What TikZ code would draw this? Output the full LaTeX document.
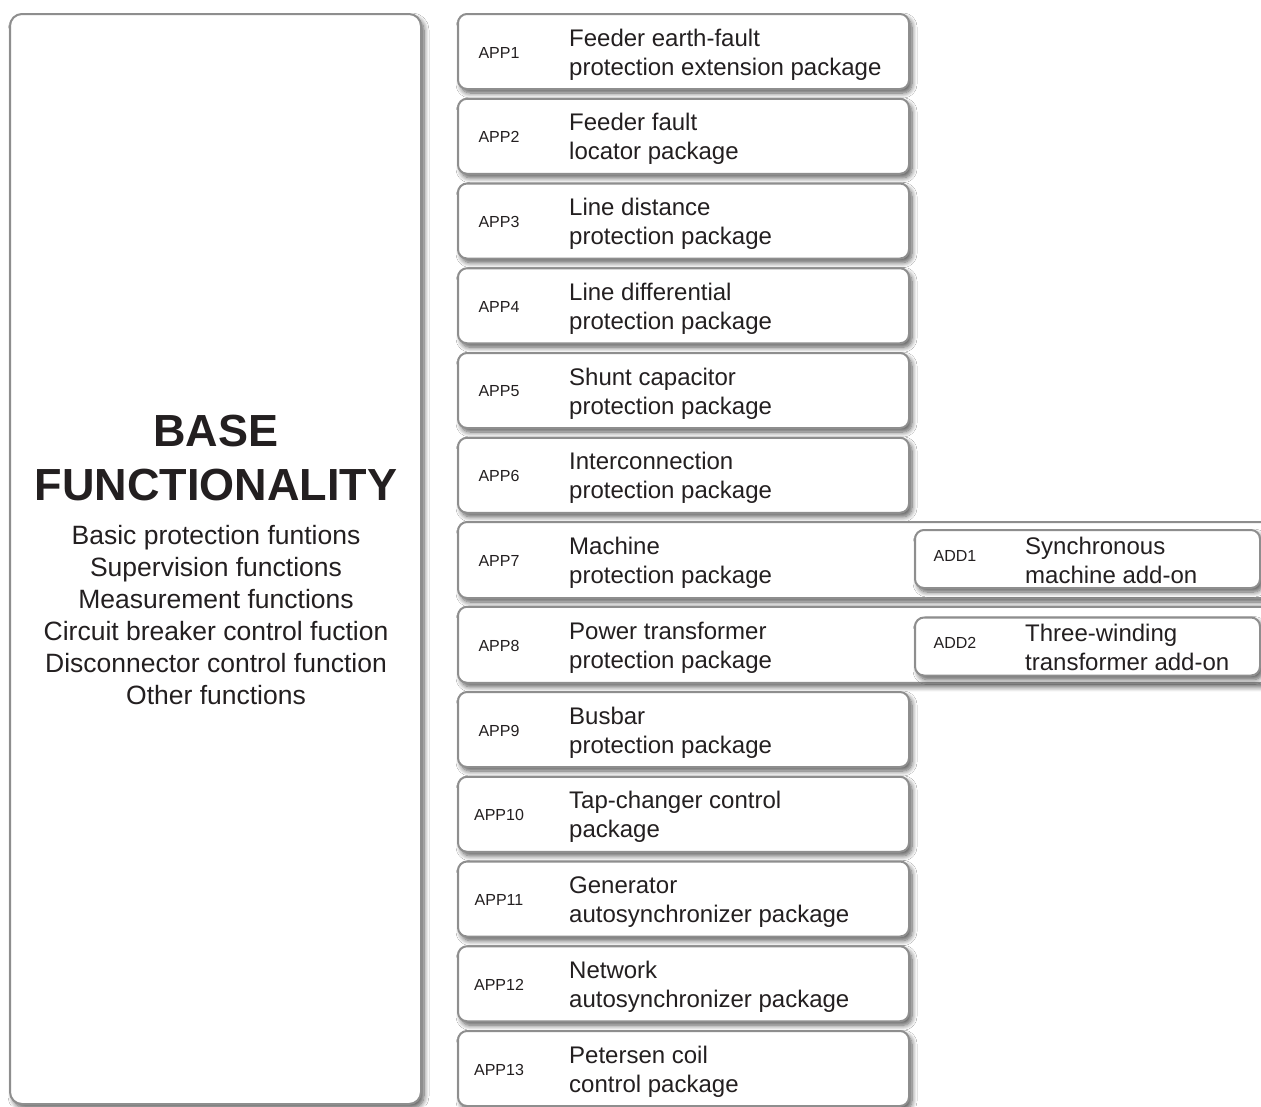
\documentclass[tikz,border=0pt]{standalone}
\usepackage{fontspec}
\setmainfont{Liberation Sans}
\usetikzlibrary{shadows.blur}
\definecolor{edge}{HTML}{8E8E8E}
\definecolor{ink}{HTML}{231F20}
\tikzset{
  card/.style={draw=edge, line width=2pt, fill=white, rounded corners=9pt, inner sep=0pt,
    blur shadow={shadow xshift=3pt, shadow yshift=-4pt, shadow blur steps=8, shadow blur radius=5pt, shadow opacity=65}},
  appcard/.style={card, minimum width=451pt, minimum height=75pt},
  widecard/.style={card, minimum width=900pt, minimum height=76pt},
  addcard/.style={card, minimum width=345pt, minimum height=58pt},
  tag/.style={font=\fontsize{16}{19}\selectfont, text=ink, inner sep=0pt},
  desc/.style={font=\fontsize{24}{29}\selectfont, text=ink, align=left, anchor=west, inner sep=0pt},
}
\begin{document}
\begin{tikzpicture}[x=1pt,y=-1pt]
\useasboundingbox[fill=white] (0,0) rectangle (1261,1106);
% base box
\node[card, rounded corners=12pt, minimum width=411pt, minimum height=1090pt] (base) at (215.5,559) {};
\node[font=\bfseries\fontsize{45}{54}\selectfont, text=ink, align=center, inner sep=0pt] (basetitle) at (216,458) {BASE\\FUNCTIONALITY};
\node[font=\fontsize{26.5}{32}\selectfont, text=ink, align=center, inner sep=0pt] (baselist) at (216,615) {Basic protection funtions\\Supervision functions\\Measurement functions\\Circuit breaker control fuction\\Disconnector control function\\Other functions};
% application packages
\foreach \i/\a/\b in {1/{Feeder earth-fault}/{protection extension package},
                      2/{Feeder fault}/{locator package},
                      3/{Line distance}/{protection package},
                      4/{Line differential}/{protection package},
                      5/{Shunt capacitor}/{protection package},
                      6/{Interconnection}/{protection package},
                      7/{Machine}/{protection package},
                      8/{Power transformer}/{protection package},
                      9/{Busbar}/{protection package},
                      10/{Tap-changer control}/{package},
                      11/{Generator}/{autosynchronizer package},
                      12/{Network}/{autosynchronizer package},
                      13/{Petersen coil}/{control package}}{
  \pgfmathsetmacro{\yy}{51.5+84.75*(\i-1)}
  \ifnum\i=7
    \node[widecard] (app\i) at (908,\yy) {};
  \else\ifnum\i=8
    \node[widecard] (app\i) at (908,\yy) {};
  \else
    \node[appcard] (app\i) at (683.5,\yy) {};
  \fi\fi
  \node[tag] (app\i-id) at (499,\yy+1) {APP\i};
  \node[desc] (app\i-txt) at (569,\yy+3) {\a\\\b};
}
% add-ons
\node[addcard] (add1) at (1087.5,559) {};
\node[tag] (add1-id) at (955,556) {ADD1};
\node[desc] (add1-txt) at (1025,560) {Synchronous\\machine add-on};
\node[addcard] (add2) at (1087.5,646.5) {};
\node[tag] (add2-id) at (955,643) {ADD2};
\node[desc] (add2-txt) at (1025,647) {Three-winding\\transformer add-on};
\end{tikzpicture}
\end{document}
